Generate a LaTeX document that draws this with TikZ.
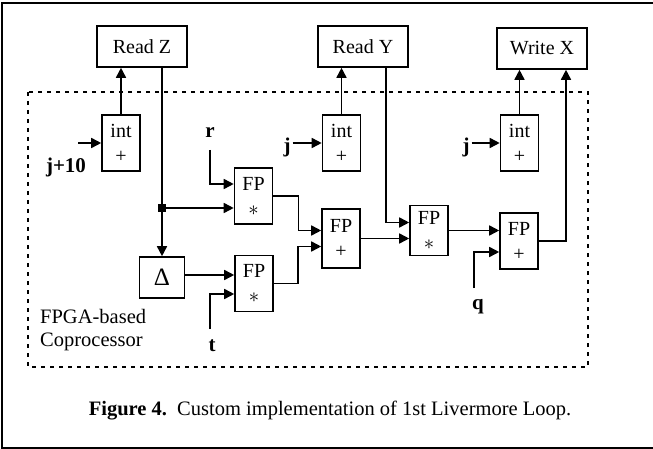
\documentclass[tikz,border=0pt]{standalone}
\usepackage{fontspec}
\setmainfont{Liberation Serif}
\usetikzlibrary{arrows.meta}
\tikzset{
  blk/.style={draw,line width=1.6pt,inner sep=0pt,align=center,
    font=\fontsize{20}{25}\selectfont},
  opbox/.style={blk,minimum width=38pt,minimum height=56pt},
  membox/.style={blk,minimum width=90pt,minimum height=41pt},
  arr/.style={line width=1.6pt,-{Triangle[length=10pt,width=10pt]}},
  wire/.style={line width=1.6pt},
  lbl/.style={font=\fontsize{21}{25}\selectfont\bfseries,inner sep=2pt},
}
\begin{document}
\begin{tikzpicture}[x=1pt,y=-1pt]
\useasboundingbox(0,0)rectangle(653,449);
% frame (open on the right) and the coprocessor region
\draw[line width=2pt](653,2.7)--(1.5,2.7)--(1.5,448.3)--(653,448.3);
\draw[line width=1.8pt,dash pattern=on 4pt off 5pt](28,92)rectangle(588,367);
%
\node[membox](ReadZ) at (142,46.5) {Read Z};
\node[membox](ReadY) at (363,46.5) {Read Y};
\node[membox](WriteX) at (542,48.5) {Write X};
%
\node[opbox](intA) at (121,143) {int\\+};
\node[opbox](intB) at (341.5,143) {int\\+};
\node[opbox](intC) at (519.5,143) {int\\+};
%
\node[opbox](mulA) at (253.5,196) {FP\\$\ast$};
\node[opbox](mulB) at (254,283.5) {FP\\$\ast$};
\node[opbox,minimum height=59pt](addA) at (341,238.5) {FP\\+};
\node[opbox,minimum height=50pt](mulC) at (429,230.5) {FP\\$\ast$};
\node[opbox](addB) at (519,241) {FP\\+};
\node[blk,minimum width=45pt,minimum height=41pt,font=\fontsize{25}{25}\selectfont](delta) at (162,277.5) {Δ};
\node[fill,minimum size=8pt,inner sep=0pt](split) at (162,208) {};
%
\node[lbl](jten) at (66,167) {j+10};
\node[lbl](jB) at (287,147) {j};
\node[lbl](jC) at (466,147) {j};
\node[lbl](r) at (210,133) {r};
\node[lbl](t) at (212,346) {t};
\node[lbl](q) at (478,307) {q};
\coordinate(jtenin) at (78,143);
\coordinate(rin) at (210,150);
\coordinate(tin) at (210,329);
\coordinate(qin) at (474,288);
%
\node[font=\fontsize{20.5}{23}\selectfont,align=left,anchor=north west,inner sep=0pt](fpga) at (40,309) {FPGA-based\\Coprocessor};
%===========================
% address counters
\draw[arr](jtenin)--(intA.west);
\draw[arr](jB.east|-intB.west)--(intB.west);
\draw[arr](jC.east|-intC.west)--(intC.west);
\draw[arr](intA.north)--(intA.north|-ReadZ.south);
\draw[arr](intB.north)--(intB.north|-ReadY.south);
\draw[arr](intC.north)--(intC.north|-WriteX.south);
% data path
\draw[wire]([xshift=20pt]ReadZ.south)--(split);
\draw[arr](split)--(delta.north);
\draw[arr](split)--(mulA.west|-split);
\draw[arr](rin)|-([yshift=12pt]mulA.west);
\draw[arr](delta.east|-mulB.west)++(0,-8.5)--([yshift=8.5pt]mulB.west);
\draw[arr](tin)|-([yshift=-10.5pt]mulB.west);
\draw[arr](mulA.east)--++(25,0)|-([yshift=8pt]addA.west);
\draw[arr](mulB.east)--++(24,0)|-([yshift=-8pt]addA.west);
\draw[arr](addA.east)--(mulC.west|-addA.east);
\draw[arr]([xshift=23pt]ReadY.south)|-([yshift=8pt]mulC.west);
\draw[arr](mulC.east)--(addB.west|-mulC.east);
\draw[arr](qin)|-([yshift=-11pt]addB.west);
\draw[arr](addB.east)-|([xshift=24pt]WriteX.south);
%================================
\node[font=\fontsize{20.5}{24}\selectfont](caption) at (330,411) {\textbf{Figure 4.}\ \ Custom implementation of 1st Livermore Loop.};
\end{tikzpicture}
\end{document}
